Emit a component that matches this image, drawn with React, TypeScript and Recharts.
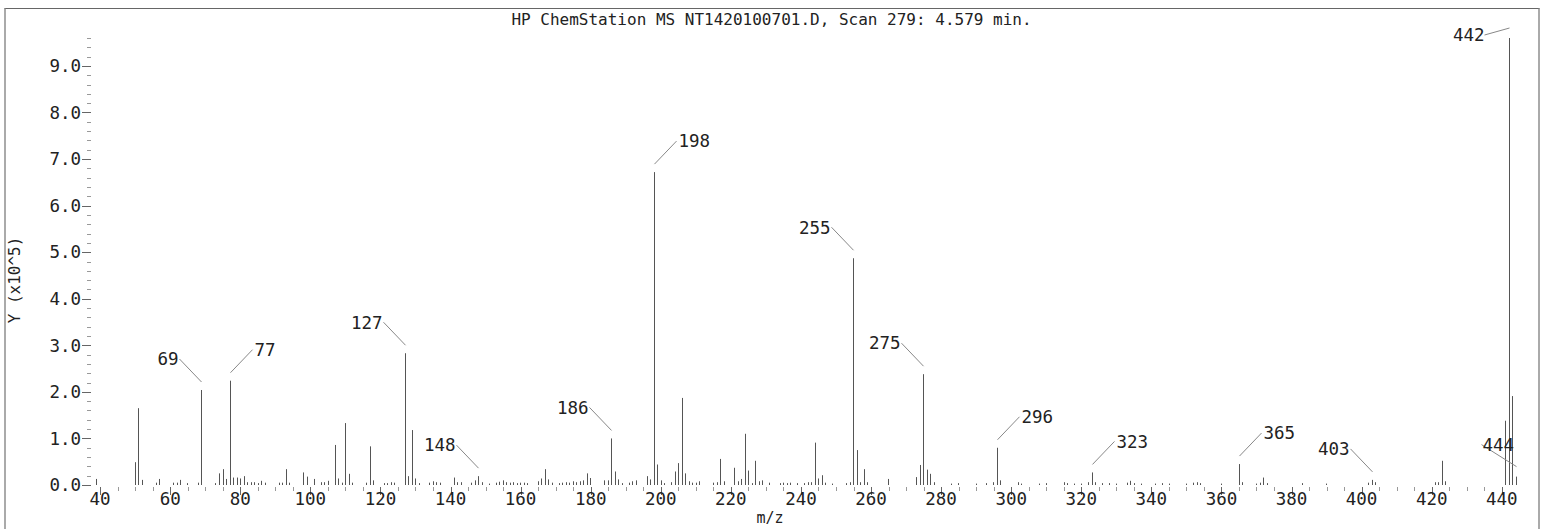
import React from "react";
import { ComposedChart, Bar, XAxis, YAxis, LabelList } from "recharts";

// mass spectrum, abundance in units of 1e5
const chartTitle = "HP ChemStation MS NT1420100701.D, Scan 279: 4.579 min.";

const mzValues = [
  39, 50, 51, 52, 56, 57, 61, 62, 63, 65, 68, 69, 73, 74, 75, 76, 77, 78, 79, 80,
  81, 82, 83, 84, 85, 86, 87, 91, 92, 93, 94, 98, 99, 101, 103, 104, 105, 107, 108, 109,
  110, 111, 112, 116, 117, 118, 121, 122, 123, 124, 127, 128, 129, 130, 131, 134, 135, 136, 137, 141,
  142, 143, 146, 147, 148, 149, 151, 153, 154, 155, 156, 157, 158, 159, 160, 161, 162, 165, 166, 167,
  168, 169, 171, 172, 173, 174, 175, 176, 177, 178, 179, 180, 184, 185, 186, 187, 188, 189, 191, 192,
  193, 196, 197, 198, 199, 200, 201, 203, 204, 205, 206, 207, 208, 209, 210, 211, 215, 216, 217, 218,
  221, 222, 223, 224, 225, 226, 227, 228, 229, 231, 234, 235, 236, 237, 239, 241, 242, 243, 244, 245,
  246, 247, 249, 253, 254, 255, 256, 257, 258, 259, 265, 273, 274, 275, 276, 277, 278, 283, 285, 290,
  293, 295, 296, 297, 302, 303, 308, 310, 315, 316, 318, 320, 322, 323, 324, 326, 328, 330, 333, 334,
  335, 337, 341, 343, 345, 350, 352, 353, 354, 360, 365, 366, 370, 371, 372, 373, 383, 390, 402, 403,
  404, 421, 422, 423, 424, 441, 442, 443, 444,
];

const abundance = [
  0.13, 0.49, 1.65, 0.11, 0.05, 0.13, 0.05, 0.05, 0.11, 0.04, 0.05, 2.04, 0.04, 0.25, 0.34, 0.13, 2.24, 0.16, 0.16, 0.14,
  0.19, 0.06, 0.06, 0.06, 0.04, 0.09, 0.05, 0.05, 0.05, 0.34, 0.05, 0.27, 0.18, 0.13, 0.06, 0.06, 0.09, 0.86, 0.14, 0.05,
  1.33, 0.24, 0.05, 0.05, 0.83, 0.1, 0.04, 0.04, 0.06, 0.05, 2.83, 0.19, 1.18, 0.14, 0.04, 0.05, 0.08, 0.06, 0.05, 0.16,
  0.06, 0.06, 0.05, 0.1, 0.19, 0.06, 0.03, 0.05, 0.07, 0.1, 0.06, 0.05, 0.06, 0.04, 0.05, 0.05, 0.04, 0.08, 0.14, 0.34,
  0.12, 0.05, 0.04, 0.05, 0.06, 0.05, 0.08, 0.06, 0.08, 0.1, 0.25, 0.15, 0.1, 0.1, 1.0, 0.29, 0.12, 0.04, 0.05, 0.08,
  0.1, 0.19, 0.12, 6.72, 0.44, 0.1, 0.04, 0.06, 0.29, 0.47, 1.87, 0.25, 0.08, 0.05, 0.05, 0.08, 0.05, 0.06, 0.56, 0.08,
  0.37, 0.08, 0.13, 1.1, 0.31, 0.04, 0.52, 0.08, 0.1, 0.05, 0.04, 0.05, 0.04, 0.05, 0.04, 0.04, 0.06, 0.06, 0.91, 0.14,
  0.21, 0.05, 0.03, 0.04, 0.06, 4.87, 0.75, 0.06, 0.34, 0.06, 0.13, 0.17, 0.43, 2.38, 0.33, 0.24, 0.06, 0.03, 0.04, 0.03,
  0.04, 0.06, 0.8, 0.1, 0.06, 0.03, 0.03, 0.04, 0.06, 0.04, 0.03, 0.03, 0.06, 0.27, 0.06, 0.04, 0.04, 0.03, 0.05, 0.09,
  0.04, 0.03, 0.03, 0.04, 0.03, 0.03, 0.05, 0.06, 0.04, 0.03, 0.45, 0.06, 0.03, 0.05, 0.16, 0.04, 0.04, 0.03, 0.05, 0.11,
  0.06, 0.06, 0.06, 0.52, 0.08, 1.38, 9.6, 1.91, 0.18,
];

const labelledPeaks = [69, 77, 127, 148, 186, 198, 255, 275, 296, 323, 365, 403, 442, 444];

const xTickLabels = [40, 60, 80, 100, 120, 140, 160, 180, 200, 220, 240, 260, 280, 300, 320, 340, 360, 380, 400, 420, 440];
const yTickLabels = [0, 1, 2, 3, 4, 5, 6, 7, 8, 9];

// which way the leader line of each annotation leans
const leaderSide: Record<number, string> = {
  69: "left", 77: "right", 127: "left", 148: "left", 186: "left", 198: "right", 255: "left",
  275: "left", 296: "right", 323: "right", 365: "right", 403: "left", 442: "flat", 444: "over",
};

const data = mzValues.map((mz, i) => ({ mz, y: abundance[i] }));

const xTicks: number[] = [];
for (let v = 40; v <= 440; v += 5) xTicks.push(v);
const yTicks: number[] = [];
for (let i = 0; i <= 48; i++) yTicks.push(Math.round(i * 2) / 10);

const FONT = "'DejaVu Sans Mono', monospace";
const INK = "#222";

function Stick(props: any) {
  const { x, y, width, height } = props;
  if (!height || height <= 0) return null;
  const cx = Math.round(x + width / 2) + 0.5;
  return <line x1={cx} x2={cx} y1={y} y2={y + height + 1} stroke="#555" strokeWidth={1} />;
}

function PeakLabel(props: any) {
  const { x, y, width, value } = props;
  if (!labelledPeaks.includes(value)) return null;
  const side = leaderSide[value] || "left";
  const cx = Math.round(x + width / 2) + 0.5;
  const top = y;
  let x1 = cx, y1 = top - 8, x2 = cx - 22, y2 = top - 31;
  let tx = x2 - 1, anchor = "end";
  if (side === "right") {
    x2 = cx + 22;
    tx = x2 + 2;
    anchor = "start";
  } else if (side === "flat") {
    y1 = top - 10;
    x2 = cx - 25;
    y2 = top - 3;
    tx = x2;
  } else if (side === "over") {
    y1 = top - 10;
    x2 = cx - 35;
    y2 = top - 32;
    tx = x2 + 1;
    anchor = "start";
  }
  return (
    <g>
      <line x1={x1} y1={y1} x2={x2} y2={y2} stroke="#888" strokeWidth={1} />
      <text x={tx} y={y2} dy="0.36em" textAnchor={anchor} fontFamily={FONT} fontSize={17.5} fill={INK}>
        {value}
      </text>
    </g>
  );
}

function XTick(props: any) {
  const { x, y, payload } = props;
  const v = payload.value;
  const major = xTickLabels.includes(v);
  const cx = Math.round(x) + 0.5;
  return (
    <g>
      <line x1={cx} x2={cx} y1={y + 2} y2={y + (major ? 10 : 6)} stroke={major ? "#666" : "#999"} />
      {major && (
        <text x={x} y={y + 20} textAnchor="middle" fontFamily={FONT} fontSize={17.5} fill={INK}>
          {v}
        </text>
      )}
    </g>
  );
}

function YTick(props: any) {
  const { x, y, payload } = props;
  const v = payload.value;
  const major = yTickLabels.some((t) => Math.abs(t - v) < 1e-6);
  const cy = Math.round(y) + 0.5;
  return (
    <g>
      <line x1={x - (major ? 9 : 4)} x2={x} y1={cy} y2={cy} stroke={major ? "#666" : "#999"} />
      {major && (
        <text x={x - 10} y={y} dy="0.36em" textAnchor="end" fontFamily={FONT} fontSize={17.5} fill={INK}>
          {v.toFixed(1)}
        </text>
      )}
    </g>
  );
}

export default function App() {
  return (
    <div
      style={{
        position: "absolute",
        left: 0,
        top: 0,
        width: 1543,
        height: 529,
        background: "#fff",
        overflow: "hidden",
      }}
    >
      <div
        style={{
          position: "absolute",
          left: 4,
          top: 8,
          width: 1532,
          height: 600,
          borderTop: "1px solid #666",
          borderLeft: "2px solid #aaa",
          borderRight: "2px solid #aaa",
        }}
      />
      <div
        style={{
          position: "absolute",
          left: 0,
          top: 12,
          width: 1543,
          textAlign: "center",
          fontFamily: FONT,
          fontSize: 16,
          lineHeight: "16px",
          color: INK,
          whiteSpace: "pre",
        }}
      >
        {chartTitle}
      </div>
      <div
        style={{
          position: "absolute",
          left: 15,
          top: 280,
          transform: "translate(-50%, -50%) rotate(-90deg)",
          fontFamily: FONT,
          fontSize: 16,
          lineHeight: "16px",
          color: INK,
          whiteSpace: "pre",
        }}
      >
        Y (x10^5)
      </div>
      <div
        style={{
          position: "absolute",
          left: 770,
          top: 511,
          transform: "translateX(-50%)",
          fontFamily: FONT,
          fontSize: 15,
          lineHeight: "15px",
          color: INK,
        }}
      >
        m/z
      </div>
      <div style={{ position: "absolute", left: 0, top: 0 }}>
        <ComposedChart width={1543} height={529} data={data} margin={{ top: 38, right: 23, bottom: 4, left: 0 }}>
          <XAxis
            dataKey="mz"
            type="number"
            domain={[37.4, 445.2]}
            allowDataOverflow
            ticks={xTicks}
            interval={0}
            height={40}
            axisLine={false}
            tickLine={false}
            tickSize={0}
            tickMargin={0}
            tick={<XTick />}
          />
          <YAxis
            type="number"
            domain={[0, 9.6]}
            allowDataOverflow
            ticks={yTicks}
            interval={0}
            width={91}
            axisLine={false}
            tickLine={false}
            tickSize={0}
            tickMargin={0}
            tick={<YTick />}
          />
          <Bar dataKey="y" barSize={1} shape={<Stick />} isAnimationActive={false}>
            <LabelList dataKey="mz" content={<PeakLabel />} />
          </Bar>
        </ComposedChart>
      </div>
    </div>
  );
}
